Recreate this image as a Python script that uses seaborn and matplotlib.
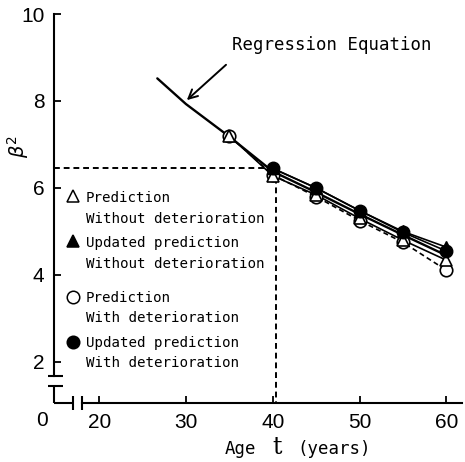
import matplotlib
matplotlib.use("Agg")
import matplotlib.pyplot as plt
import seaborn as sns
import numpy as np

# ---- data ----
reg_age = [26.7, 30, 35, 40, 45, 50, 55, 60]
reg_val = [8.52, 7.93, 7.18, 6.38, 5.90, 5.40, 4.92, 4.45]

pred_age = [35, 40, 45, 50, 55, 60]
pred_wo = [7.20, 6.28, 5.84, 5.30, 4.80, 4.34]      # open triangle
pred_w = [7.20, 6.30, 5.80, 5.25, 4.75, 4.11]       # open circle

upd_age = [40, 45, 50, 55, 60]
upd_wo = [6.45, 6.00, 5.48, 5.00, 4.64]             # filled triangle
upd_w = [6.45, 6.00, 5.48, 4.98, 4.55]              # filled circle

x_ticks = [20, 30, 40, 50, 60]
y_ticks = [2, 4, 6, 8, 10]
update_age = 40.4
update_val = 6.45

legend_labels = [("Prediction", "Without deterioration"),
                 ("Updated prediction", "Without deterioration"),
                 ("Prediction", "With deterioration"),
                 ("Updated prediction", "With deterioration")]

# ---- figure ----
sns.set_style("ticks")
plt.rcParams.update({"text.color": "black", "axes.labelcolor": "black",
                     "xtick.color": "black", "ytick.color": "black",
                     "axes.edgecolor": "black"})
W, H = 465, 462
fig = plt.figure(figsize=(W / 100, H / 100), dpi=100)
X0, X1, Y0, Y1 = 14.8, 61.8, 1.057, 10.0
ax = fig.add_axes([54 / W, (H - 403) / H, (462 - 54) / W, (403 - 14) / H])
ax.set_xlim(X0, X1)
ax.set_ylim(Y0, Y1)

mono = "DejaVu Sans Mono"
black = "black"

# lines
sns.lineplot(x=reg_age, y=reg_val, ax=ax, color=black, lw=1.7, zorder=2)
sns.lineplot(x=upd_age, y=upd_w, ax=ax, color=black, lw=1.2, zorder=2)
sns.lineplot(x=upd_age, y=upd_wo, ax=ax, color=black, lw=1.2, zorder=2)
sns.lineplot(x=pred_age, y=pred_wo, ax=ax, color=black, lw=1.2, zorder=2)
sns.lineplot(x=pred_age, y=pred_w, ax=ax, color=black, lw=1.2, zorder=2,
             linestyle=(0, (3, 2)))

# markers
ms = 9
ax.plot(pred_age, pred_w, ls="none", marker="o", ms=ms, mfc="white", mec=black, mew=1.2, zorder=3)
ax.plot(pred_age, pred_wo, ls="none", marker="^", ms=ms, mfc="white", mec=black, mew=1.2, zorder=4)
ax.plot(upd_age, upd_wo, ls="none", marker="^", ms=ms, mfc=black, mec=black, zorder=5)
ax.plot(upd_age, upd_w, ls="none", marker="o", ms=ms, mfc=black, mec=black, zorder=6)

# dashed guide lines
ax.plot([X0, update_age], [update_val, update_val], color=black, lw=1.4,
        ls=(0, (3, 2)), zorder=1, clip_on=False)
ax.plot([update_age, update_age], [update_val, Y0], color=black, lw=1.4,
        ls=(0, (3, 2)), zorder=1, clip_on=False)

# axes / spines with breaks
sns.despine(ax=ax)
ybreak_hi, ybreak_lo = 1.678, 1.448
xbreak_lo, xbreak_hi = 16.99, 18.03
for s in ("left", "bottom"):
    ax.spines[s].set_linewidth(1.5)
ax.spines["left"].set_bounds(ybreak_hi, Y1)
ax.spines["bottom"].set_bounds(xbreak_hi, X1)
kw = dict(color=black, lw=1.5, clip_on=False, solid_capstyle="butt")
ax.plot([X0, X0], [ybreak_lo, Y0], **kw)
ax.plot([X0, xbreak_lo], [Y0, Y0], **kw)
for yb in (ybreak_hi, ybreak_lo):
    ax.plot([X0 - 6 / 8.675, X0 + 9 / 8.675], [yb, yb], **kw)
for xb in (xbreak_lo, xbreak_hi):
    ax.plot([xb, xb], [Y0 - 7 / 43.5, Y0 + 7 / 43.5], **kw)

ax.set_xticks(x_ticks)
ax.set_yticks(y_ticks)
ax.tick_params(direction="in", length=5, width=1.3, colors=black)
for lab in ax.get_xticklabels() + ax.get_yticklabels():
    lab.set_fontfamily("Liberation Sans")
    lab.set_fontsize(15)
    lab.set_color(black)
ax.tick_params(axis="x", pad=7)
ax.tick_params(axis="y", pad=7)

def fx(px):
    return px / W

def fy(py):
    return 1 - py / H

# origin label
fig.text(fx(42), fy(420), "0", family="Liberation Sans", fontsize=15,
         ha="center", va="center")

# y label
fig.text(fx(18), fy(146), r"$\beta^2$", fontsize=14, rotation=90,
         ha="center", va="center")

# x label
fig.text(fx(225), fy(449), "Age", family=mono, fontsize=12.5, ha="left", va="center")
fig.text(fx(277), fy(447), "t", family="DejaVu Serif", fontsize=17, ha="center", va="center")
fig.text(fx(297), fy(449), "(years)", family=mono, fontsize=12.5, ha="left", va="center")

# regression annotation
ax.annotate("Regression Equation", xy=(30.1, 8.02), xycoords="data",
            xytext=(fx(232), fy(45)), textcoords="figure fraction",
            family=mono, fontsize=12.5, ha="left", va="center",
            arrowprops=dict(arrowstyle="->", color=black, lw=1.4,
                            shrinkA=0, shrinkB=0, mutation_scale=16,
                            patchA=None, relpos=(-0.03, -0.6)))

# legend (manual)
marker_specs = [("^", "white"), ("^", black), ("o", "white"), ("o", black)]
mark_y = [196, 241, 297, 342]
line1_y = [198, 243, 298, 343]
line2_y = [219, 264, 318, 363]
for (m, fc), my, y1, y2, (l1, l2) in zip(marker_specs, mark_y, line1_y, line2_y, legend_labels):
    fig.add_artist(plt.Line2D([fx(73)], [fy(my)], marker=m, ms=9, mfc=fc, mec=black,
                              mew=1.1, ls="none", transform=fig.transFigure))
    fig.text(fx(86), fy(y1), l1, family=mono, fontsize=10.2, ha="left", va="center")
    fig.text(fx(86), fy(y2), l2, family=mono, fontsize=10.2, ha="left", va="center")

fig.savefig("out.png", dpi=100)
